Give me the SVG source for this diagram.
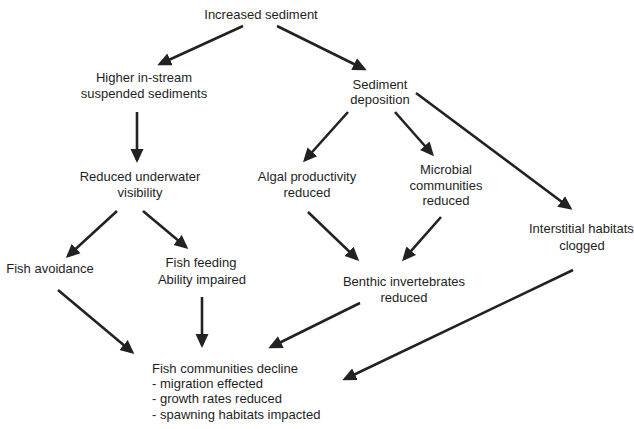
<svg xmlns="http://www.w3.org/2000/svg" width="634" height="429" viewBox="0 0 634 429">
<defs>
<style>
text{font-family:"Liberation Sans",Arial,sans-serif;font-size:13px;fill:#1e1e1e}
.c{text-anchor:middle}
.e{stroke:#222;stroke-width:2.6;fill:none;marker-end:url(#ah)}
</style>
<marker id="ah" markerUnits="userSpaceOnUse" markerWidth="14" markerHeight="14" viewBox="0 0 14 14" refX="11" refY="7" orient="auto">
<path d="M0,0.5 L14,7 L0,13.5 Z" fill="#222"/>
</marker>
</defs>
<rect width="634" height="429" fill="#fff"/>
<g id="connectors">
<path class="e" d="M243,26 L160,64"/>
<path class="e" d="M277,26 L364,69"/>
<path class="e" d="M137,112 L137,160"/>
<path class="e" d="M348,112 L305,160"/>
<path class="e" d="M395,112 L432,154"/>
<path class="e" d="M416,93 L570,208"/>
<path class="e" d="M117,211 L68,256"/>
<path class="e" d="M143,211 L186,247"/>
<path class="e" d="M308,212 L357,259"/>
<path class="e" d="M441,217 L404,259"/>
<path class="e" d="M58,290 L132,352"/>
<path class="e" d="M202,297 L202,345"/>
<path class="e" d="M360,303 L271,347"/>
<path class="e" d="M573,270 L345,379"/>
</g>
<g id="n1"><text class="c" x="261" y="19">Increased sediment</text></g>
<g id="n2"><text class="c" x="144" y="82">Higher in-stream</text><text class="c" x="144" y="98">suspended sediments</text></g>
<g id="n3"><text class="c" x="380" y="89">Sediment</text><text class="c" x="380" y="104">deposition</text></g>
<g id="n4"><text class="c" x="140" y="181">Reduced underwater</text><text class="c" x="140" y="197">visibility</text></g>
<g id="n5"><text class="c" x="307" y="181">Algal productivity</text><text class="c" x="307" y="197">reduced</text></g>
<g id="n6"><text class="c" x="446" y="174">Microbial</text><text class="c" x="446" y="190">communities</text><text class="c" x="446" y="205">reduced</text></g>
<g id="n7"><text x="529" y="233">Interstitial habitats</text><text class="c" x="582" y="250">clogged</text></g>
<g id="n8"><text class="c" x="50" y="273">Fish avoidance</text></g>
<g id="n9"><text class="c" x="201" y="267">Fish feeding</text><text class="c" x="202" y="284">Ability impaired</text></g>
<g id="n10"><text class="c" x="404" y="286">Benthic invertebrates</text><text class="c" x="404" y="302">reduced</text></g>
<g id="n11"><text x="152" y="373">Fish communities decline</text><text x="152" y="388">- migration effected</text><text x="152" y="403">- growth rates reduced</text><text x="152" y="419">- spawning habitats impacted</text></g>
</svg>
